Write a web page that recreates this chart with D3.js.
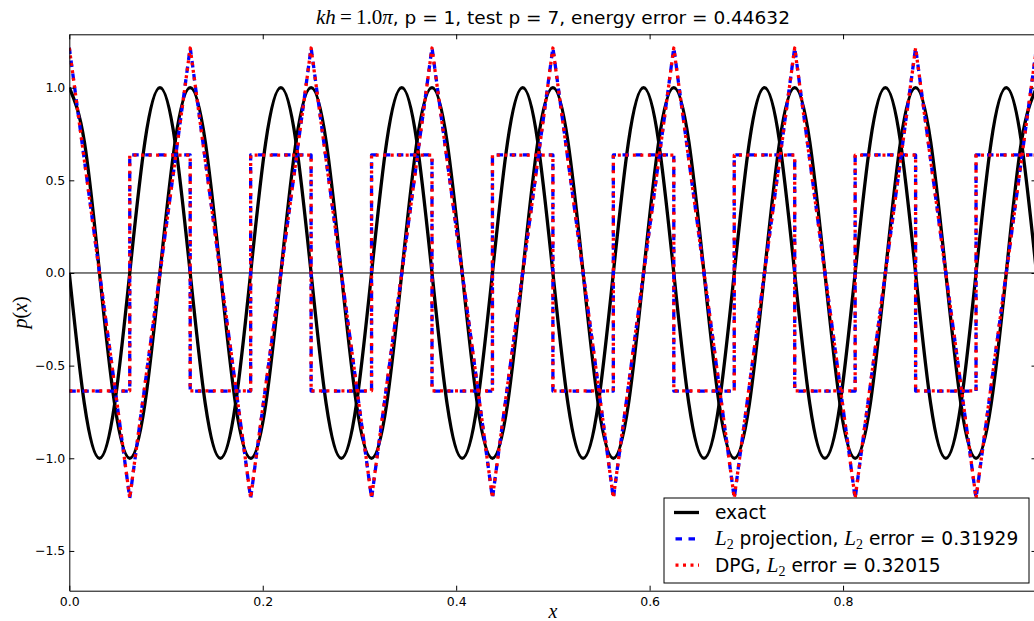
<!DOCTYPE html>
<html>
<head>
<meta charset="utf-8">
<script src="https://cdn.jsdelivr.net/npm/d3@7"></script>
<style>
  body { margin: 0; background: #fff; }
  svg { display: block; }
  text { font-family: "DejaVu Sans", sans-serif; fill: #000; }
  .math { font-family: "Liberation Serif", "DejaVu Serif", serif; }
</style>
</head>
<body>
<svg id="chart" width="1034" height="621"></svg>
<script>
// Mesh nodes: 16 elements of width h = 1/16 on [0, 1]
const nodeX = [0, 0.0625, 0.125, 0.1875, 0.25, 0.3125, 0.375, 0.4375, 0.5,
               0.5625, 0.625, 0.6875, 0.75, 0.8125, 0.875, 0.9375, 1];

// Sample points of the exact solution
const sampleX = [
  0, 0.015625, 0.03125, 0.046875, 0.0625, 0.078125, 0.09375, 0.109375,
  0.125, 0.140625, 0.15625, 0.171875, 0.1875, 0.203125, 0.21875, 0.234375,
  0.25, 0.265625, 0.28125, 0.296875, 0.3125, 0.328125, 0.34375, 0.359375,
  0.375, 0.390625, 0.40625, 0.421875, 0.4375, 0.453125, 0.46875, 0.484375,
  0.5, 0.515625, 0.53125, 0.546875, 0.5625, 0.578125, 0.59375, 0.609375,
  0.625, 0.640625, 0.65625, 0.671875, 0.6875, 0.703125, 0.71875, 0.734375,
  0.75, 0.765625, 0.78125, 0.796875, 0.8125, 0.828125, 0.84375, 0.859375,
  0.875, 0.890625, 0.90625, 0.921875, 0.9375, 0.953125, 0.96875, 0.984375,
  1
];

// Exact solution, real part
const exactRe = [
  1, 0.707, 0, -0.707, -1, -0.707, 0, 0.707,
  1, 0.707, 0, -0.707, -1, -0.707, 0, 0.707,
  1, 0.707, 0, -0.707, -1, -0.707, 0, 0.707,
  1, 0.707, 0, -0.707, -1, -0.707, 0, 0.707,
  1, 0.707, 0, -0.707, -1, -0.707, 0, 0.707,
  1, 0.707, 0, -0.707, -1, -0.707, 0, 0.707,
  1, 0.707, 0, -0.707, -1, -0.707, 0, 0.707,
  1, 0.707, 0, -0.707, -1, -0.707, 0, 0.707,
  1
];

// Exact solution, imaginary part
const exactIm = [
  0, -0.707, -1, -0.707, 0, 0.707, 1, 0.707,
  0, -0.707, -1, -0.707, 0, 0.707, 1, 0.707,
  0, -0.707, -1, -0.707, 0, 0.707, 1, 0.707,
  0, -0.707, -1, -0.707, 0, 0.707, 1, 0.707,
  0, -0.707, -1, -0.707, 0, 0.707, 1, 0.707,
  0, -0.707, -1, -0.707, 0, 0.707, 1, 0.707,
  0, -0.707, -1, -0.707, 0, 0.707, 1, 0.707,
  0, -0.707, -1, -0.707, 0, 0.707, 1, 0.707,
  0
];

// L2 projection (p = 1): real part at the nodes, imaginary part per element
const projRe = [1.216, -1.216, 1.216, -1.216, 1.216, -1.216, 1.216, -1.216, 1.216,
                -1.216, 1.216, -1.216, 1.216, -1.216, 1.216, -1.216, 1.216];
const projIm = [-0.637, 0.637, -0.637, 0.637, -0.637, 0.637, -0.637, 0.637,
                -0.637, 0.637, -0.637, 0.637, -0.637, 0.637, -0.637, 0.637];

// DPG solution: real part at the nodes, imaginary part per element
const dpgRe = [1.214, -1.214, 1.214, -1.214, 1.214, -1.214, 1.214, -1.214, 1.214,
               -1.214, 1.214, -1.214, 1.214, -1.214, 1.214, -1.214, 1.214];
const dpgIm = [-0.636, 0.636, -0.636, 0.636, -0.636, 0.636, -0.636, 0.636,
               -0.636, 0.636, -0.636, 0.636, -0.636, 0.636, -0.636, 0.636];

const xTicks = [0, 0.2, 0.4, 0.6, 0.8];
const yTicks = [-1.5, -1.0, -0.5, 0.0, 0.5, 1.0];
const legendLabels = ["exact", "projection", "DPG"];
const errorValues = { energy: "0.44632", proj: "0.31929", dpg: "0.32015" };

// ---- layout ----
const svg = d3.select("#chart");
const plot = { left: 69.3, right: 1036.5, top: 34.3, bottom: 590.7 };

const x = d3.scaleLinear().domain([0, 1]).range([plot.left, plot.right]);
const y = d3.scaleLinear().domain([-1.7145, 1.288]).range([plot.bottom, plot.top]);

svg.append("defs").append("clipPath").attr("id", "plotclip")
  .append("rect")
  .attr("x", plot.left).attr("y", plot.top)
  .attr("width", plot.right - plot.left).attr("height", plot.bottom - plot.top);

const g = svg.append("g").attr("clip-path", "url(#plotclip)");

// zero line
g.append("line")
  .attr("x1", x(0)).attr("x2", x(1))
  .attr("y1", y(0)).attr("y2", y(0))
  .attr("stroke", "#000").attr("stroke-width", 1);

const smooth = d3.line().x(d => x(d[0])).y(d => y(d[1])).curve(d3.curveNatural);
const linear = d3.line().x(d => x(d[0])).y(d => y(d[1]));
const steps = d3.line().x(d => x(d[0])).y(d => y(d[1])).curve(d3.curveStepAfter);

const exactReData = sampleX.map((v, i) => [v, exactRe[i]]);
const exactImData = sampleX.map((v, i) => [v, exactIm[i]]);
const nodal = vals => nodeX.map((v, i) => [v, vals[i]]);
const perElement = vals => nodeX.map((v, i) => [v, vals[Math.min(i, vals.length - 1)]]);

const styles = {
  exact: { stroke: "#000", width: 3.3, dash: null },
  proj: { stroke: "#0000ff", width: 3.3, dash: "6.5,6.5" },
  dpg: { stroke: "#ff0000", width: 3.3, dash: "3,4.5" }
};

function draw(path, st) {
  const p = g.append("path")
    .attr("d", path)
    .attr("fill", "none")
    .attr("stroke", st.stroke)
    .attr("stroke-width", st.width)
    .attr("stroke-linejoin", "round");
  if (st.dash) p.attr("stroke-dasharray", st.dash);
}

draw(smooth(exactReData), styles.exact);
draw(smooth(exactImData), styles.exact);
draw(linear(nodal(projRe)), styles.proj);
draw(steps(perElement(projIm)), styles.proj);
draw(linear(nodal(dpgRe)), styles.dpg);
draw(steps(perElement(dpgIm)), styles.dpg);

// ---- axes (ticks point inward on all four sides) ----
const fmt = d3.format(".1f");
function styleAxis(sel) {
  sel.select(".domain").attr("stroke", "#000").attr("stroke-width", 1);
  sel.selectAll(".tick line").attr("stroke", "#000").attr("stroke-width", 1);
  sel.selectAll(".tick text").attr("font-family", "DejaVu Sans").attr("font-size", 12.5).attr("fill", "#000");
}

svg.append("g").attr("transform", `translate(0,${plot.bottom})`)
  .call(d3.axisBottom(x).tickValues(xTicks).tickFormat(fmt).tickSizeInner(-5).tickSizeOuter(0).tickPadding(6))
  .call(styleAxis);
svg.append("g").attr("transform", `translate(0,${plot.top})`)
  .call(d3.axisTop(x).tickValues(xTicks).tickFormat("").tickSizeInner(-5).tickSizeOuter(0))
  .call(styleAxis);
svg.append("g").attr("transform", `translate(${plot.left},0)`)
  .call(d3.axisLeft(y).tickValues(yTicks).tickFormat(fmt).tickSizeInner(-5).tickSizeOuter(0).tickPadding(4))
  .call(styleAxis);
svg.append("g").attr("transform", `translate(${plot.right},0)`)
  .call(d3.axisRight(y).tickValues(yTicks).tickFormat("").tickSizeInner(-5).tickSizeOuter(0))
  .call(styleAxis);

// ---- title ----
const cx = (plot.left + plot.right) / 2;
const title = svg.append("text").attr("x", cx).attr("y", 24)
  .attr("text-anchor", "middle").attr("font-size", 18.5);
title.append("tspan").attr("class", "math").attr("font-size", 21).attr("font-style", "italic").text("kh");
title.append("tspan").attr("class", "math").attr("font-size", 21).text("\u2009=\u20091.0");
title.append("tspan").attr("class", "math").attr("font-size", 21).attr("font-style", "italic").text("π");
title.append("tspan").text(`, p = 1, test p = 7, energy error = ${errorValues.energy}`);

// ---- axis labels ----
svg.append("text").attr("class", "math").attr("x", cx).attr("y", 618)
  .attr("text-anchor", "middle").attr("font-size", 20).attr("font-style", "italic").text("x");

const ylab = svg.append("text").attr("class", "math")
  .attr("transform", `translate(27,${(plot.top + plot.bottom) / 2}) rotate(-90)`)
  .attr("text-anchor", "middle").attr("font-size", 20);
ylab.append("tspan").attr("font-style", "italic").text("p");
ylab.append("tspan").text("(");
ylab.append("tspan").attr("font-style", "italic").text("x");
ylab.append("tspan").text(")");

// ---- legend ----
const lg = { x: 664, y: 498, w: 365, h: 85 };
svg.append("rect").attr("x", lg.x).attr("y", lg.y).attr("width", lg.w).attr("height", lg.h)
  .attr("fill", "#fff").attr("stroke", "#000").attr("stroke-width", 1);

const rows = [
  { key: "exact", st: styles.exact },
  { key: "proj", st: styles.proj },
  { key: "dpg", st: styles.dpg }
];
rows.forEach((r, i) => {
  const ry = lg.y + 14.5 + i * 26.3;
  const ln = svg.append("line")
    .attr("x1", lg.x + 10).attr("x2", lg.x + 35)
    .attr("y1", ry).attr("y2", ry)
    .attr("stroke", r.st.stroke).attr("stroke-width", r.st.width);
  if (r.st.dash) ln.attr("stroke-dasharray", r.st.dash).attr("stroke-dashoffset", -1.5);

  const t = svg.append("text").attr("x", lg.x + 51).attr("y", ry + 6.5).attr("font-size", 18.6);
  const L2 = () => {
    t.append("tspan").attr("class", "math").attr("font-style", "italic").attr("font-size", 21).text("L");
    t.append("tspan").attr("class", "math").attr("font-size", 14).attr("dy", 4).text("2");
    t.append("tspan").attr("dy", -4).text(" ");
  };
  if (r.key === "exact") {
    t.append("tspan").text(legendLabels[0]);
  } else if (r.key === "proj") {
    L2();
    t.append("tspan").text(legendLabels[1] + ", ");
    L2();
    t.append("tspan").text(`error = ${errorValues.proj}`);
  } else {
    t.append("tspan").text(legendLabels[2] + ", ");
    L2();
    t.append("tspan").text(`error = ${errorValues.dpg}`);
  }
});
</script>
</body>
</html>
